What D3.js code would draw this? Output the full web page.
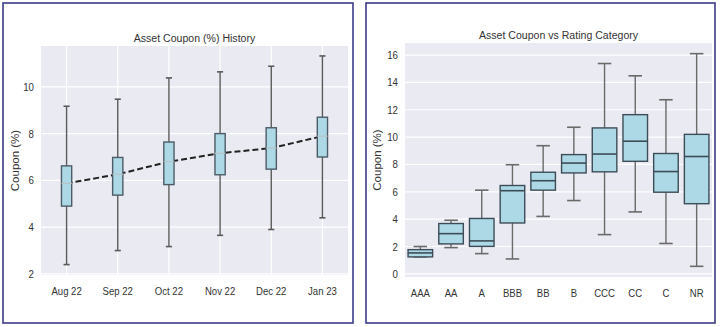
<!DOCTYPE html>
<html>
<head>
<meta charset="utf-8">
<script src="https://cdn.jsdelivr.net/npm/d3@7"></script>
<style>
  body { margin: 0; background: #fff; }
  svg { font-family: "Liberation Sans", Arial, sans-serif; }
  .tick text { fill: #333; font-size: 11px; }
</style>
</head>
<body>
<svg id="chart" width="720" height="327"></svg>
<script>
// ---- left chart: coupon history by month
var months = ["Aug 22", "Sep 22", "Oct 22", "Nov 22", "Dec 22", "Jan 23"];
var monthLow = [2.4, 3.0, 3.17, 3.65, 3.9, 4.4];
var monthQ1 = [4.9, 5.37, 5.82, 6.24, 6.48, 7.0];
var monthMed = [5.87, 6.26, 6.8, 7.16, 7.38, 7.89];
var monthQ3 = [6.62, 6.98, 7.64, 8.0, 8.25, 8.7];
var monthHigh = [9.17, 9.47, 10.38, 10.64, 10.88, 11.32];
var leftTicks = [2, 4, 6, 8, 10];

// ---- right chart: coupon by rating
var ratings = ["AAA", "AA", "A", "BBB", "BB", "B", "CCC", "CC", "C", "NR"];
var ratingLow = [1.24, 1.92, 1.48, 1.09, 4.2, 5.36, 2.87, 4.53, 2.22, 0.55];
var ratingQ1 = [1.24, 2.19, 2.01, 3.72, 6.12, 7.38, 7.46, 8.23, 5.97, 5.13];
var ratingMed = [1.53, 2.94, 2.41, 6.08, 6.81, 8.1, 8.76, 9.7, 7.48, 8.58];
var ratingQ3 = [1.77, 3.68, 4.05, 6.46, 7.43, 8.72, 10.67, 11.64, 8.8, 10.2];
var ratingHigh = [2.0, 3.92, 6.12, 7.98, 9.37, 10.72, 15.38, 14.48, 12.73, 16.1];
var rightTicks = [0, 2, 4, 6, 8, 10, 12, 14, 16];

var svg = d3.select("#chart");
svg.append("rect").attr("width", 720).attr("height", 327).attr("fill", "#fff");

function rows(cats, lo, q1, med, q3, hi){
	return cats.map(function(c, i){
		return {cat: c, lo: lo[i], q1: q1[i], med: med[i], q3: q3[i], hi: hi[i]};
	});
}

function drawPanel(opt){
	// panel frame
	svg.append("rect")
		.attr("x", opt.frame[0]).attr("y", opt.frame[1])
		.attr("width", opt.frame[2]).attr("height", opt.frame[3])
		.attr("fill", "none").attr("stroke", "#3b3b86").attr("stroke-width", 1.6);

	var x = d3.scaleBand().domain(opt.data.map(function(d){ return d.cat; }))
		.range([opt.left, opt.right]).padding(0);
	var y = d3.scaleLinear().domain(opt.ydom).range([opt.bottom, opt.top]);

	var g = svg.append("g");
	g.append("rect")
		.attr("x", opt.left).attr("y", opt.top)
		.attr("width", opt.right - opt.left).attr("height", opt.bottom - opt.top)
		.attr("fill", "#eaeaf2");

	// grid
	g.selectAll(".hgrid").data(opt.ticks).enter().append("line")
		.attr("x1", opt.left).attr("x2", opt.right)
		.attr("y1", function(d){ return y(d); }).attr("y2", function(d){ return y(d); })
		.attr("stroke", "#fff").attr("stroke-width", 1.2);
	if(opt.vgrid){
		g.selectAll(".vgrid").data(opt.data).enter().append("line")
			.attr("x1", function(d){ return x(d.cat) + x.bandwidth() / 2; })
			.attr("x2", function(d){ return x(d.cat) + x.bandwidth() / 2; })
			.attr("y1", opt.top).attr("y2", opt.bottom)
			.attr("stroke", "#fff").attr("stroke-width", 1.2);
	}

	// axes (labels only); the source text is a bit narrow, squeeze it
	var ya = g.append("g").attr("transform", "translate(" + opt.left + ",0)")
		.call(d3.axisLeft(y).tickValues(opt.ticks).tickSize(0).tickPadding(opt.ypad));
	ya.select(".domain").remove();
	ya.selectAll(".tick text").attr("transform", "scale(0.88,1)");
	var xa = g.append("g").attr("transform", "translate(0," + opt.bottom + ")")
		.call(d3.axisBottom(x).tickSize(0).tickPadding(opt.xpad));
	xa.select(".domain").remove();
	xa.selectAll(".tick text").attr("transform", "scale(0.87,1)");

	svg.append("text")
		.attr("transform", "translate(" + (opt.left + opt.right) / 2 + "," + opt.titleY + ") scale(0.92,1)")
		.attr("text-anchor", "middle").attr("font-size", 11.5).attr("fill", "#333")
		.text(opt.title);
	svg.append("text")
		.attr("transform", "translate(" + opt.ylabX + "," + (opt.top + opt.bottom) / 2 + ") rotate(-90)")
		.attr("text-anchor", "middle").attr("font-size", 11.5).attr("fill", "#333")
		.text("Coupon (%)");

	// median line (history chart), under the boxes
	if(opt.medLine){
		var line = d3.line()
			.x(function(d){ return x(d.cat) + x.bandwidth() / 2; })
			.y(function(d){ return y(d.med); });
		g.append("path").datum(opt.data)
			.attr("d", line).attr("fill", "none")
			.attr("stroke", "#222").attr("stroke-width", 2)
			.attr("stroke-dasharray", "6,3");
	}

	var bw = x.bandwidth() * opt.boxFrac;
	var cw = bw * opt.capFrac;
	var box = g.selectAll(".box").data(opt.data).enter().append("g")
		.attr("transform", function(d){ return "translate(" + (x(d.cat) + x.bandwidth() / 2) + ",0)"; });

	box.append("line")
		.attr("x1", 0).attr("x2", 0)
		.attr("y1", function(d){ return y(d.hi); }).attr("y2", function(d){ return y(d.q3); })
		.attr("stroke", opt.whisker).attr("stroke-width", 1.4);
	box.append("line")
		.attr("x1", 0).attr("x2", 0)
		.attr("y1", function(d){ return y(d.q1); }).attr("y2", function(d){ return y(d.lo); })
		.attr("stroke", opt.whisker).attr("stroke-width", 1.4);
	["hi", "lo"].forEach(function(k){
		box.append("line")
			.attr("x1", -cw / 2).attr("x2", cw / 2)
			.attr("y1", function(d){ return y(d[k]); }).attr("y2", function(d){ return y(d[k]); })
			.attr("stroke", opt.whisker).attr("stroke-width", 1.6);
	});
	box.append("rect")
		.attr("x", -bw / 2).attr("width", bw)
		.attr("y", function(d){ return y(d.q3); })
		.attr("height", function(d){ return y(d.q1) - y(d.q3); })
		.attr("fill", "#add8e6").attr("stroke", opt.boxStroke).attr("stroke-width", 1.4);
	box.append("line")
		.attr("x1", -bw / 2).attr("x2", bw / 2)
		.attr("y1", function(d){ return y(d.med); }).attr("y2", function(d){ return y(d.med); })
		.attr("stroke", opt.medColor).attr("stroke-width", opt.medWidth);
}

drawPanel({
	frame: [3, 3, 350, 320],
	data: rows(months, monthLow, monthQ1, monthMed, monthQ3, monthHigh),
	left: 41, right: 348, top: 46, bottom: 275,
	ydom: [1.955, 11.745], ticks: leftTicks,
	vgrid: true, medLine: true,
	boxFrac: 0.2, capFrac: 0.6,
	whisker: "#5a5a5a", boxStroke: "#4d5c66", medColor: "#b9c3c6", medWidth: 1.2,
	title: "Asset Coupon (%) History", titleY: 42, ylabX: 19, ypad: 8, xpad: 12
});

drawPanel({
	frame: [366, 3, 349, 320],
	data: rows(ratings, ratingLow, ratingQ1, ratingMed, ratingQ3, ratingHigh),
	left: 405, right: 712, top: 43, bottom: 277,
	ydom: [-0.23, 16.88], ticks: rightTicks,
	vgrid: false, medLine: false,
	boxFrac: 0.8, capFrac: 0.55,
	whisker: "#6a6a6a", boxStroke: "#3d4d57", medColor: "#3d4d57", medWidth: 1.6,
	title: "Asset Coupon vs Rating Category", titleY: 39, ylabX: 381, ypad: 8, xpad: 12
});
</script>
</body>
</html>
